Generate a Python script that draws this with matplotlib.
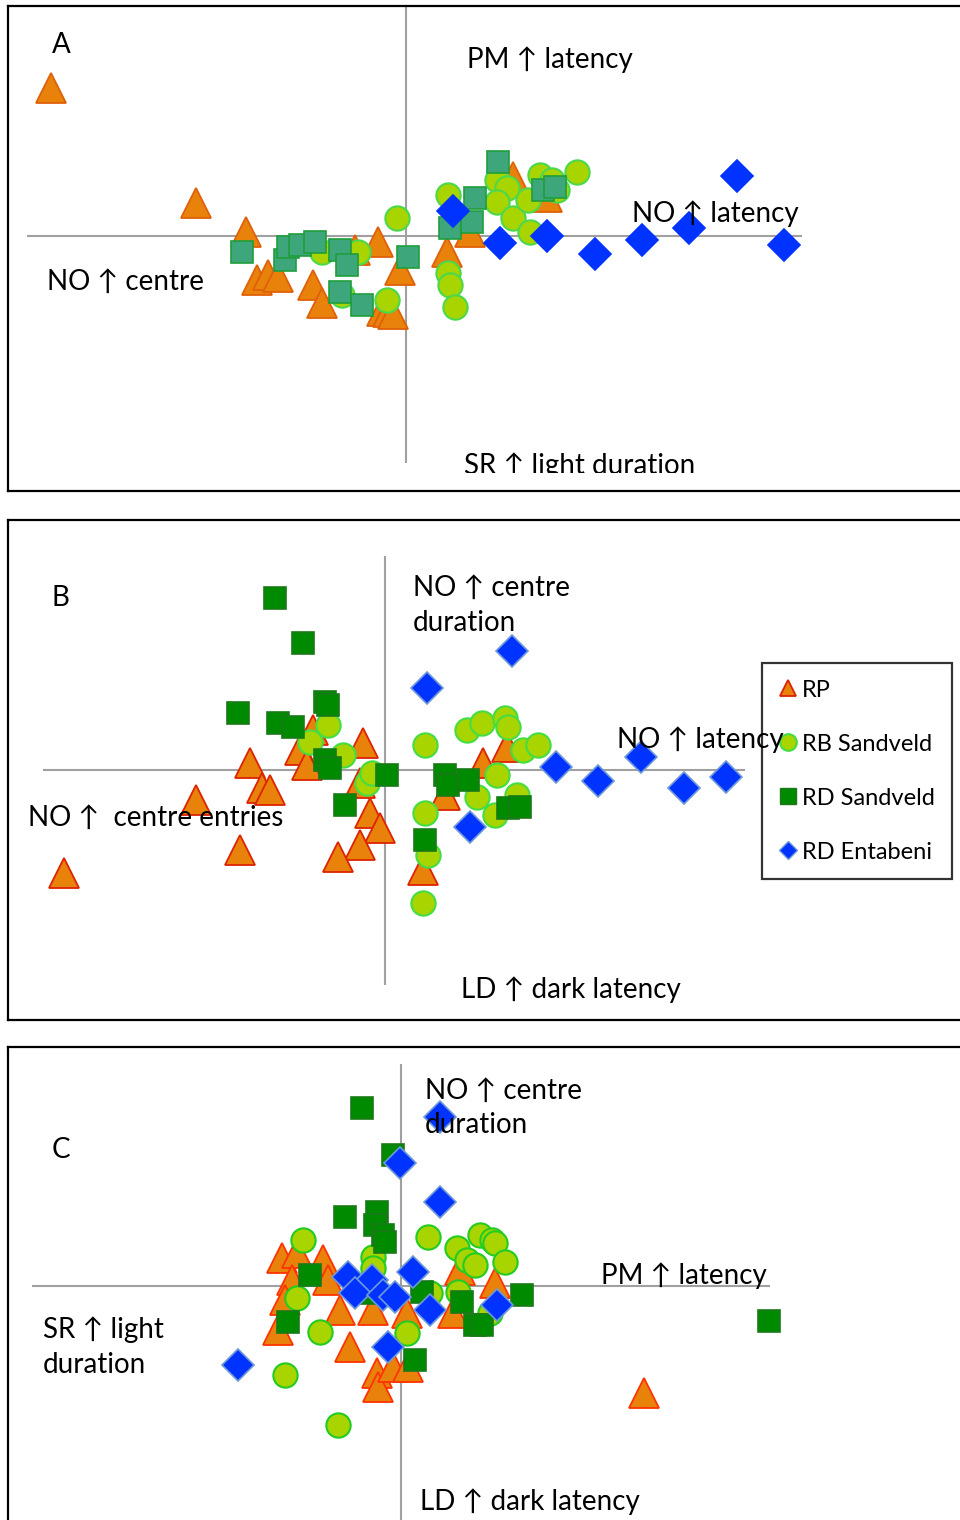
import matplotlib.pyplot as plt
from matplotlib.lines import Line2D
from matplotlib.transforms import Bbox, TransformedBbox

plt.rcParams['font.family'] = ['Lato', 'DejaVu Sans']

# ---- panel A (PCA scores) ----
a_rp_x = [-3.55, -2.10, -1.60, -1.49, -1.38, -1.28, -0.93, -0.84, -0.51, -0.28, -0.06, -0.24, -0.18, -0.13, 0.41, 0.64, 1.07, 1.41]
a_rp_y = [1.48, 0.33, 0.04, -0.44, -0.39, -0.41, -0.49, -0.67, -0.14, -0.06, -0.34, -0.75, -0.76, -0.78, -0.16, 0.04, 0.59, 0.39]
a_rb_x = [-0.09, -0.48, -0.84, -0.64, -0.19, 0.42, 0.91, 1.01, 0.91, 1.07, 1.24, 1.22, 1.34, 1.46, 1.51, 1.71, 0.42, 0.44, 0.49]
a_rb_y = [0.18, -0.16, -0.16, -0.59, -0.64, 0.41, 0.56, 0.48, 0.34, 0.18, 0.04, 0.36, 0.61, 0.56, 0.46, 0.64, -0.37, -0.49, -0.71]
a_rds_x = [-1.64, -1.21, -1.18, -1.06, -0.91, -0.66, -0.59, -0.66, -0.44, 0.02, 0.44, 0.92, 0.69, 0.66, 1.37, 1.49]
a_rds_y = [-0.16, -0.24, -0.11, -0.09, -0.06, -0.14, -0.29, -0.56, -0.69, -0.21, 0.08, 0.74, 0.38, 0.14, 0.46, 0.49]
a_rde_x = [3.31, 0.47, 0.94, 1.41, 1.89, 2.36, 2.83, 3.78]
a_rde_y = [0.60, 0.25, -0.07, 0.00, -0.18, -0.04, 0.08, -0.09]

# ---- panel B ----
b_rp_x = [-1.35, -1.89, -1.23, -1.15, -1.45, -3.21, -0.22, -0.72, -0.85, -0.78, -0.15, -0.05, -0.25, -0.47, 0.38, 0.60, 0.98, 1.22, -0.25]
b_rp_y = [0.07, -0.30, -0.18, -0.20, -0.80, -1.03, 0.27, 0.40, 0.20, 0.05, -0.43, -0.58, -0.75, -0.87, -1.00, -0.25, 0.07, 0.23, -0.13]
b_rb_x = [-0.57, -0.75, -0.42, -0.18, -0.13, 0.40, 0.82, 0.97, 1.20, 1.23, 1.38, 1.53, 1.12, 0.92, 1.10, 1.32, 0.40, 0.43, 0.38]
b_rb_y = [0.45, 0.28, 0.15, -0.13, -0.03, 0.25, 0.40, 0.47, 0.52, 0.43, 0.20, 0.25, -0.05, -0.27, -0.45, -0.25, -0.43, -0.85, -1.33]
b_rds_x = [-1.10, -0.82, -1.47, -1.07, -0.92, -0.60, -0.57, -0.60, -0.55, -0.40, 0.02, 0.60, 0.63, 0.83, 1.23, 1.35, 0.40]
b_rds_y = [1.72, 1.27, 0.57, 0.47, 0.43, 0.68, 0.65, 0.10, 0.02, -0.35, -0.05, -0.05, -0.15, -0.10, -0.38, -0.37, -0.70]
b_rde_x = [1.27, 0.42, 0.85, 1.71, 2.13, 2.56, 2.99, 3.41]
b_rde_y = [1.19, 0.82, -0.57, 0.03, -0.11, 0.13, -0.18, -0.07]

# ---- panel C ----
c_rp_x = [-1.19, -1.04, -0.78, -1.09, -1.16, -1.23, -0.73, -0.61, -0.51, -0.28, 0.06, -0.24, -0.23, -0.08, 0.07, 0.94, 0.59, 0.52, 2.43]
c_rp_y = [0.28, 0.33, 0.26, 0.06, -0.14, -0.44, 0.06, -0.24, -0.61, -0.24, -0.27, -0.87, -1.01, -0.81, -0.81, 0.03, 0.16, -0.27, -1.07]
c_rb_x = [-0.98, -0.28, -0.28, -1.04, -0.81, 0.27, 0.56, 0.66, 0.74, 0.79, 0.91, 0.94, 1.04, 0.57, 0.06, -1.16, -0.63, 0.89, 0.29]
c_rb_y = [0.46, 0.29, 0.18, -0.12, -0.46, 0.49, 0.38, 0.26, 0.21, 0.51, 0.46, 0.43, 0.24, -0.06, -0.47, -0.89, -1.39, -0.27, -0.07]
c_rds_x = [-0.39, -0.08, -0.56, -0.24, -0.26, -0.18, -0.16, -0.91, -1.13, 0.21, 0.61, 0.74, 0.81, 1.21, 0.14, 3.68, -0.34]
c_rds_y = [1.78, 1.31, 0.69, 0.74, 0.61, 0.51, 0.44, 0.11, -0.36, -0.06, -0.16, -0.39, -0.39, -0.09, -0.74, -0.35, -0.07]
c_rde_x = [0.39, -0.01, 0.39, 0.12, -0.53, -0.29, -0.46, -0.18, -0.06, 0.29, 0.96, -0.13, -1.63]
c_rde_y = [1.69, 1.23, 0.84, 0.14, 0.09, 0.06, -0.07, -0.09, -0.11, -0.24, -0.19, -0.61, -0.79]

groups = ['RP', 'RB Sandveld', 'RD Sandveld', 'RD Entabeni']

W, H = 960, 1520
fig = plt.figure(figsize=(W / 100, H / 100), dpi=100)

GREY = '#a0a0a0'


def panel(box, origin, s=100.0):
    # box = (left, top, right, bottom) in pixels, origin = axis cross in pixels
    l, t, r, b = box
    ox, oy = origin
    ax = fig.add_axes([l / W, 1 - b / H, (r - l) / W, (b - t) / H])
    ax.set_xlim((l - ox) / s, (r - ox) / s)
    ax.set_ylim((oy - b) / s, (oy - t) / s)
    ax.set_xticks([])
    ax.set_yticks([])
    for sp in ax.spines.values():
        sp.set_linewidth(1.6)
        sp.set_color('black')
    return ax


def draw(ax, rp, rb, rd, re, sq_face, sq_edge, tri_edge, circ_edge, dia_edge):
    ax.plot(rp[0], rp[1], '^', ms=21.5, mfc='#e8820a', mec=tri_edge, mew=1.3, ls='none', zorder=3)
    ax.plot(rb[0], rb[1], 'o', ms=17.5, mfc='#a8d400', mec=circ_edge, mew=1.5, ls='none', zorder=4)
    ax.plot(rd[0], rd[1], 's', ms=16, mfc=sq_face, mec=sq_edge, mew=1.2, ls='none', zorder=5)
    ax.plot(re[0], re[1], 'D', ms=16, mfc='#0033ff', mec=dia_edge, mew=1.2, ls='none', zorder=6)


def label(px, py, s, clip=None):
    t = fig.text(px / W, 1 - py / H, s, fontsize=20, ha='left', va='baseline', zorder=10)
    if clip is not None:
        t.set_clip_box(TransformedBbox(Bbox(clip), fig.transFigure))
        t.set_clip_on(True)
    return t


# panel A
axA = panel((8, 6, 966, 491), (406, 236))
axA.hlines(0, -3.79, 3.96, color=GREY, lw=1.5, zorder=1)
axA.vlines(0, -2.27, 2.30, color=GREY, lw=1.5, zorder=1)
draw(axA, (a_rp_x, a_rp_y), (a_rb_x, a_rb_y), (a_rds_x, a_rds_y), (a_rde_x, a_rde_y),
     '#3da67a', '#1f9e3c', '#e0600a', '#4cd84c', '#0033ff')
label(52, 53, 'A')
label(467, 68, 'PM ↑ latency')
label(632, 222, 'NO ↑ latency')
label(47, 290, 'NO ↑ centre')
label(464, 474, 'SR ↑ light duration', clip=[[0, 1 - 473 / H], [1, 1]])

# panel B
axB = panel((8, 520, 966, 1020), (385, 770))
axB.hlines(0, -3.42, 3.60, color=GREY, lw=1.5, zorder=1)
axB.vlines(0, -2.15, 2.14, color=GREY, lw=1.5, zorder=1)
draw(axB, (b_rp_x, b_rp_y), (b_rb_x, b_rb_y), (b_rds_x, b_rds_y), (b_rde_x, b_rde_y),
     '#008a00', '#1a7a1a', '#dd2200', '#44dd44', '#6f9ad8')
label(52, 606, 'B')
label(413, 596, 'NO ↑ centre')
label(413, 631, 'duration')
label(617, 748, 'NO ↑ latency')
label(28, 826, 'NO ↑  centre entries')
label(461, 998, 'LD ↑ dark latency')

handles = [
    Line2D([], [], marker='^', ms=12, mfc='#e8820a', mec='#dd2200', mew=1.3, ls='none'),
    Line2D([], [], marker='o', ms=12, mfc='#a8d400', mec='#44dd44', mew=1.5, ls='none'),
    Line2D([], [], marker='s', ms=12, mfc='#008a00', mec='#1a7a1a', mew=1.0, ls='none'),
    Line2D([], [], marker='D', ms=9, mfc='#0033ff', mec='#6f9ad8', mew=1.0, ls='none'),
]
leg = axB.legend(handles, groups, loc='upper left', bbox_to_anchor=(762 / W, 1 - 663 / H),
                 bbox_transform=fig.transFigure, borderaxespad=0, fontsize=17,
                 frameon=True, fancybox=False, edgecolor='black', facecolor='none',
                 handlelength=0.8, handletextpad=0.2, labelspacing=1.4, borderpad=0.7)
leg.get_frame().set_linewidth(1.6)
leg.set_zorder(20)

# panel C
axC = panel((8, 1047, 966, 1530), (401, 1286))
axC.hlines(0, -3.69, 3.69, color=GREY, lw=1.5, zorder=1)
axC.vlines(0, -2.44, 2.22, color=GREY, lw=1.5, zorder=1)
draw(axC, (c_rp_x, c_rp_y), (c_rb_x, c_rb_y), (c_rds_x, c_rds_y), (c_rde_x, c_rde_y),
     '#008a00', '#1a7a1a', '#ff3300', '#22cc22', '#6f9ad8')
label(52, 1158, 'C')
label(425, 1099, 'NO ↑ centre')
label(425, 1133, 'duration')
label(601, 1284, 'PM ↑ latency')
label(43, 1338, 'SR ↑ light')
label(43, 1373, 'duration')
label(420, 1510, 'LD ↑ dark latency')

fig.savefig('out.png', dpi=100)
